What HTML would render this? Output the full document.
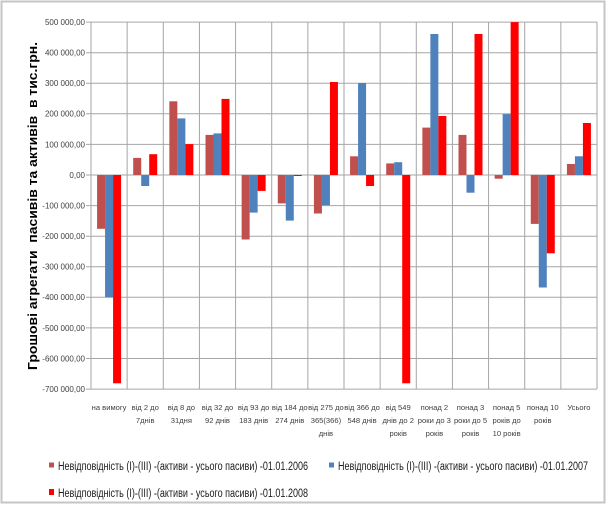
<!DOCTYPE html>
<html><head><meta charset="utf-8"><style>
html,body{margin:0;padding:0;background:#fff;}
svg{display:block;}
text{font-family:"Liberation Sans",sans-serif;}
</style></head><body>
<svg width="608" height="507" viewBox="0 0 608 507" xmlns="http://www.w3.org/2000/svg">
<rect x="0" y="0" width="608" height="507" fill="#fff"/>
<rect x="1.5" y="1.5" width="603" height="501" fill="#fff" stroke="#c6c6c6" stroke-width="2"/>
<g stroke="#a6a6a6" stroke-width="1">
<line x1="86" y1="22.1" x2="597" y2="22.1"/>
<line x1="86" y1="52.7" x2="597" y2="52.7"/>
<line x1="86" y1="83.3" x2="597" y2="83.3"/>
<line x1="86" y1="113.8" x2="597" y2="113.8"/>
<line x1="86" y1="144.4" x2="597" y2="144.4"/>
<line x1="86" y1="175" x2="597" y2="175"/>
<line x1="86" y1="205.6" x2="597" y2="205.6"/>
<line x1="86" y1="236.2" x2="597" y2="236.2"/>
<line x1="86" y1="266.7" x2="597" y2="266.7"/>
<line x1="86" y1="297.3" x2="597" y2="297.3"/>
<line x1="86" y1="327.9" x2="597" y2="327.9"/>
<line x1="86" y1="358.5" x2="597" y2="358.5"/>
<line x1="86" y1="389.1" x2="597" y2="389.1"/>
</g>
<g stroke="#a6a6a6" stroke-width="1">
<line x1="91" y1="22" x2="91" y2="389"/>
<line x1="127.14" y1="22" x2="127.14" y2="389"/>
<line x1="163.29" y1="22" x2="163.29" y2="389"/>
<line x1="199.43" y1="22" x2="199.43" y2="389"/>
<line x1="235.57" y1="22" x2="235.57" y2="389"/>
<line x1="271.71" y1="22" x2="271.71" y2="389"/>
<line x1="307.86" y1="22" x2="307.86" y2="389"/>
<line x1="344" y1="22" x2="344" y2="389"/>
<line x1="380.14" y1="22" x2="380.14" y2="389"/>
<line x1="416.29" y1="22" x2="416.29" y2="389"/>
<line x1="452.43" y1="22" x2="452.43" y2="389"/>
<line x1="488.57" y1="22" x2="488.57" y2="389"/>
<line x1="524.71" y1="22" x2="524.71" y2="389"/>
<line x1="560.86" y1="22" x2="560.86" y2="389"/>
<line x1="597" y1="22" x2="597" y2="389"/>
</g>
<g fill="#C0504D">
<rect x="97.07" y="175" width="8" height="53.8"/>
<rect x="133.21" y="157.9" width="8" height="17.1"/>
<rect x="169.36" y="101.3" width="8" height="73.7"/>
<rect x="205.5" y="134.9" width="8" height="40.1"/>
<rect x="241.64" y="175" width="8" height="64.5"/>
<rect x="277.78" y="175" width="8" height="28.4"/>
<rect x="313.93" y="175" width="8" height="38.5"/>
<rect x="350.07" y="156.3" width="8" height="18.7"/>
<rect x="386.21" y="163.4" width="8" height="11.6"/>
<rect x="422.36" y="127.6" width="8" height="47.4"/>
<rect x="458.5" y="134.9" width="8" height="40.1"/>
<rect x="494.64" y="175" width="8" height="3.7"/>
<rect x="530.78" y="175" width="8" height="48.9"/>
<rect x="566.93" y="164" width="8" height="11"/>
</g>
<g fill="#4F81BD">
<rect x="105.07" y="175" width="8" height="122.3"/>
<rect x="141.21" y="175" width="8" height="11"/>
<rect x="177.36" y="118.4" width="8" height="56.6"/>
<rect x="213.5" y="133.4" width="8" height="41.6"/>
<rect x="249.64" y="175" width="8" height="37.6"/>
<rect x="285.78" y="175" width="8" height="45.6"/>
<rect x="321.93" y="175" width="8" height="30.3"/>
<rect x="358.07" y="83" width="8" height="92"/>
<rect x="394.21" y="162.2" width="8" height="12.8"/>
<rect x="430.36" y="34" width="8" height="141"/>
<rect x="466.5" y="175" width="8" height="17.7"/>
<rect x="502.64" y="114.1" width="8" height="60.9"/>
<rect x="538.78" y="175" width="8" height="112.5"/>
<rect x="574.93" y="156.3" width="8" height="18.7"/>
</g>
<g fill="#FF0000">
<rect x="113.07" y="175" width="8" height="208.3"/>
<rect x="149.21" y="154.2" width="8" height="20.8"/>
<rect x="185.36" y="144.1" width="8" height="30.9"/>
<rect x="221.5" y="98.9" width="8" height="76.1"/>
<rect x="257.64" y="175" width="8" height="15.9"/>
<rect x="293.78" y="175" width="8" height="1"/>
<rect x="329.93" y="82" width="8" height="93"/>
<rect x="366.07" y="175" width="8" height="11"/>
<rect x="402.21" y="175" width="8" height="208.3"/>
<rect x="438.36" y="116" width="8" height="59"/>
<rect x="474.5" y="34" width="8" height="141"/>
<rect x="510.64" y="22.1" width="8" height="152.9"/>
<rect x="546.78" y="175" width="8" height="78.3"/>
<rect x="582.93" y="123" width="8" height="52"/>
</g>
<g font-size="8" fill="#404040" text-anchor="end">
<text x="85" y="25">500 000,00</text>
<text x="85" y="55.6">400 000,00</text>
<text x="85" y="86.2">300 000,00</text>
<text x="85" y="116.7">200 000,00</text>
<text x="85" y="147.3">100 000,00</text>
<text x="85" y="178">0,00</text>
<text x="85" y="208.5">-100 000,00</text>
<text x="85" y="239.1">-200 000,00</text>
<text x="85" y="269.6">-300 000,00</text>
<text x="85" y="300.2">-400 000,00</text>
<text x="85" y="330.8">-500 000,00</text>
<text x="85" y="361.4">-600 000,00</text>
<text x="85" y="392">-700 000,00</text>
</g>
<text transform="translate(37,206) rotate(-90)" font-size="13" font-weight="bold" fill="#000" text-anchor="middle" textLength="328" lengthAdjust="spacingAndGlyphs" xml:space="preserve">Грошові агрегати  пасивів та активів  в тис.грн.</text>
<g font-size="7.6" fill="#404040" text-anchor="middle">
<text x="109.07" y="410">на вимогу</text>
<text x="145.21" y="410">від 2 до</text><text x="145.21" y="423">7днів</text>
<text x="181.36" y="410">від 8 до</text><text x="181.36" y="423">31дня</text>
<text x="217.5" y="410">від 32 до</text><text x="217.5" y="423">92 днів</text>
<text x="253.64" y="410">від 93 до</text><text x="253.64" y="423">183 днів</text>
<text x="289.78" y="410">від 184 до</text><text x="289.78" y="423">274 днів</text>
<text x="325.93" y="410">від 275 до</text><text x="325.93" y="423">365(366)</text><text x="325.93" y="436">днів</text>
<text x="362.07" y="410">від 366 до</text><text x="362.07" y="423">548 днів</text>
<text x="398.21" y="410">від 549</text><text x="398.21" y="423">днів до 2</text><text x="398.21" y="436">років</text>
<text x="434.36" y="410">понад 2</text><text x="434.36" y="423">роки до 3</text><text x="434.36" y="436">років</text>
<text x="470.5" y="410">понад 3</text><text x="470.5" y="423">роки до 5</text><text x="470.5" y="436">років</text>
<text x="506.64" y="410">понад 5</text><text x="506.64" y="423">років до</text><text x="506.64" y="436">10 років</text>
<text x="542.78" y="410">понад 10</text><text x="542.78" y="423">років</text>
<text x="578.93" y="410">Усього</text>
</g>
<rect x="49" y="462.5" width="5" height="5" fill="#C0504D"/>
<text x="58" y="470" font-size="11.5" fill="#1a1a1a" textLength="250" lengthAdjust="spacingAndGlyphs">Невідповідність (І)-(ІІІ) -(активи - усього пасиви) -01.01.2006</text>
<rect x="329" y="462.5" width="5" height="5" fill="#4F81BD"/>
<text x="338" y="470" font-size="11.5" fill="#1a1a1a" textLength="250" lengthAdjust="spacingAndGlyphs">Невідповідність (І)-(ІІІ) -(активи - усього пасиви) -01.01.2007</text>
<rect x="49" y="489" width="5" height="6" fill="#FF0000"/>
<text x="58" y="497" font-size="11.5" fill="#1a1a1a" textLength="250" lengthAdjust="spacingAndGlyphs">Невідповідність (І)-(ІІІ) -(активи - усього пасиви) -01.01.2008</text>
</svg>
</body></html>
